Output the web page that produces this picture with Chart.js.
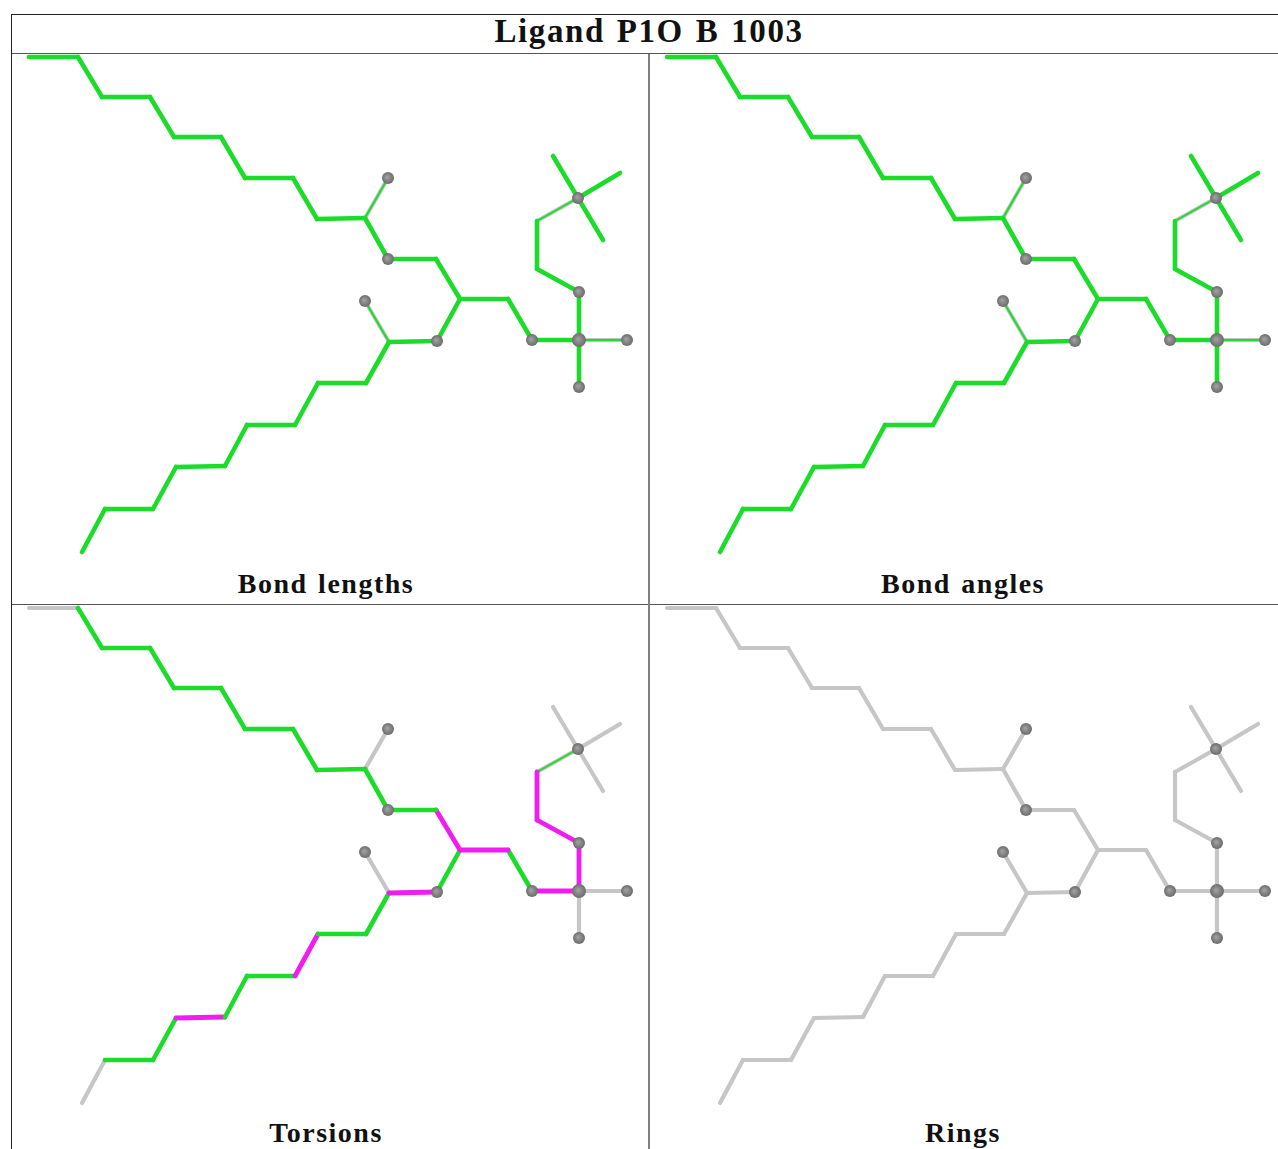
<!DOCTYPE html>
<html><head><meta charset="utf-8">
<script src="https://cdn.jsdelivr.net/npm/chart.js@4"></script>
<style>
html,body{margin:0;padding:0;background:#fff;overflow:hidden;width:1278px;height:1149px}
canvas{position:absolute;filter:blur(.6px)}
.l{position:absolute;background:#555}
.t{position:absolute;font:bold 28px "Liberation Serif",serif;letter-spacing:1.5px;word-spacing:2px;color:#111;white-space:nowrap;transform:translateX(-50%);line-height:30px}
</style></head><body>
<div class="l" style="left:11px;top:14px;width:1267px;height:1px;background:#222"></div>
<div class="l" style="left:11px;top:14px;width:1px;height:1135px;background:#222"></div>
<div class="l" style="left:12px;top:53px;width:1266px;height:1px"></div>
<div class="l" style="left:12px;top:604px;width:1266px;height:1px"></div>
<div class="l" style="left:648px;top:54px;width:2px;height:1095px;background:#808080"></div>
<div class="t" id="title" style="left:649px;top:16px;font-size:33px;letter-spacing:1.6px">Ligand P1O B 1003</div>
<div class="t" style="left:326px;top:569px">Bond lengths</div>
<div class="t" style="left:963px;top:569px">Bond angles</div>
<div class="t" style="left:326px;top:1118px">Torsions</div>
<div class="t" style="left:963px;top:1118px">Rings</div>
<canvas id="c1" width="636" height="550" style="left:12px;top:54px"></canvas>
<canvas id="c2" width="628" height="550" style="left:650px;top:54px"></canvas>
<canvas id="c3" width="636" height="544" style="left:12px;top:605px"></canvas>
<canvas id="c4" width="628" height="544" style="left:650px;top:605px"></canvas>
<script>
// Atom positions (first panel's frame)
const atomX = [29,78,102,150,174,221,245,293,317,365,388,388,436,460,508,532,579,627,579,579,537,537,578,553,620,603,437,389,365,366,318,295,247,225,176,153,105,82];
const atomY = [57,57,97,97,137,137,178,178,219,218,178,259,259,299,299,340,340,340,387,292,269,221,198,156,173,240,341,342,301,383,383,425,425,466,467,509,509,552];
// Bonds as atom index pairs
const bondFrom = [0,1,2,3,4,5,6,7,8,9,9,11,12,13,14,15,16,16,16,19,20,21,22,22,22,13,26,27,27,29,30,31,32,33,34,35,36];
const bondTo   = [1,2,3,4,5,6,7,8,9,10,11,12,13,14,15,16,17,18,19,20,21,22,23,24,25,26,27,28,29,30,31,32,33,34,35,36,37];
// Bond quality per panel: g good, f faint (partly good), m outlier, n not assessed
const lengthStatus = "g g g g g g g g g f g g g g g g f g g g g f g g g g g f g g g g g g g g g".split(" ");
const angleStatus  = lengthStatus;
const torsionStatus = "n g g g g g g g g n g g m m g m n n m m m f n n n g m n g g m g g m g g n".split(" ");
const ringStatus = lengthStatus.map(() => "n");
// Spherical atoms drawn as markers (index into the atom lists)
const ballAtoms = [10,11,15,16,17,18,19,22,26,28];
const panelTitles = ["Bond lengths","Bond angles","Torsions","Rings"];

const GREEN='#1cdc2a', MAGENTA='#f01cf0', GREY='#c6c6c6';
function sphere(r){
  const s=document.createElement('canvas'); s.width=s.height=2*r+2;
  const g=s.getContext('2d'); const c=r+1;
  const grad=g.createRadialGradient(c-1,c-1,0.5,c,c,r);
  grad.addColorStop(0,'#a0a0a0');grad.addColorStop(.6,'#808080');grad.addColorStop(1,'#6c6c6c');
  g.fillStyle=grad;g.beginPath();g.arc(c,c,r,0,7);g.fill();return s;
}
const ball=sphere(6), bigBall=sphere(7);
function seg(i,color,width){
  return {data:[{x:atomX[bondFrom[i]],y:atomY[bondFrom[i]]},{x:atomX[bondTo[i]],y:atomY[bondTo[i]]}],
    showLine:true,borderColor:color,borderWidth:width,borderCapStyle:'round',pointRadius:0,parsing:false};
}
function build(id,status,xMax,yMax){
  const over=[],under=[];
  status.forEach((s,i)=>{
    if(s==='g')over.push(seg(i,GREEN,4.6));
    else if(s==='m')over.push(seg(i,MAGENTA,4.8));
    else if(s==='n')under.push(seg(i,GREY,4.2));
    else {over.push(seg(i,GREEN,2));under.push(seg(i,'#c4c4c4',4));}
  });
  const balls={data:ballAtoms.map(k=>({x:atomX[k],y:atomY[k]})),showLine:false,parsing:false,
    pointStyle:ballAtoms.map(k=>k===16?bigBall:ball),pointRadius:6};
  new Chart(document.getElementById(id),{type:'scatter',
    data:{datasets:[balls,...over,...under]},
    options:{responsive:false,animation:false,events:[],
      layout:{padding:0,autoPadding:false},
      plugins:{legend:{display:false},tooltip:{enabled:false},title:{display:false}},
      scales:{x:{type:'linear',display:false,min:12,max:xMax},y:{type:'linear',display:false,min:54,max:yMax,reverse:true}}}});
}
build('c1',lengthStatus,648,604);
build('c2',angleStatus,640,604);
build('c3',torsionStatus,648,598);
build('c4',ringStatus,640,598);
</script>
</body></html>
